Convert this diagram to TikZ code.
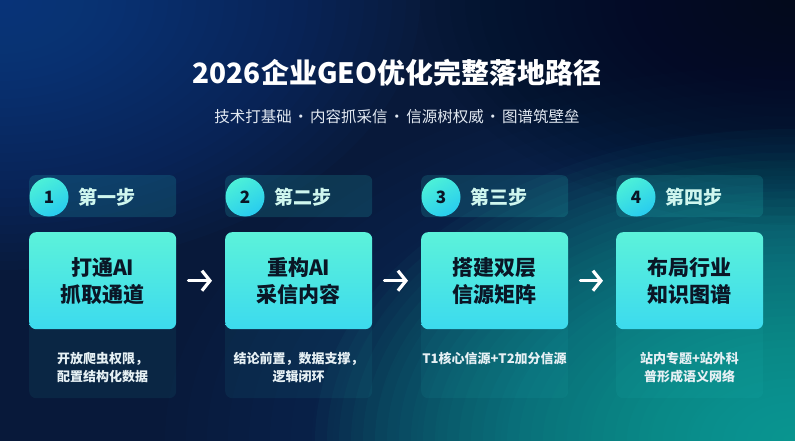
\documentclass[tikz,border=0pt]{standalone}
\usepackage{fontspec}
\setmainfont{Noto Sans CJK SC}
\usetikzlibrary{arrows.meta}
\definecolor{cbg}{HTML}{08193A}
\definecolor{cglowtl}{HTML}{1A4CA2}
\definecolor{cglowbr}{HTML}{20B6A6}
\definecolor{cglowmid}{HTML}{12507E}
\definecolor{cdarktr}{HTML}{030A18}
\definecolor{cbar}{HTML}{2BD4D0}
\definecolor{cboxtop}{HTML}{5CF2DA}
\definecolor{cboxbot}{HTML}{3CDAEE}
\definecolor{ccirctop}{HTML}{4CF0D8}
\definecolor{ccircbot}{HTML}{28CCEF}
\definecolor{cdark}{HTML}{0A1626}
\definecolor{cmint}{HTML}{CFF6EE}
\definecolor{cdesc}{HTML}{E6F0F4}
\definecolor{csub}{HTML}{E2E9F2}
\begin{document}
\begin{tikzpicture}[x=1pt,y=-1pt,
  hdrbar/.style={fill=cbar, fill opacity=0.16, rounded corners=6pt, minimum width=147pt, minimum height=42pt, inner sep=0pt, anchor=north west},
  panel/.style={fill=cbar, fill opacity=0.07, rounded corners=7pt, minimum width=147pt, minimum height=166pt, inner sep=0pt, anchor=north west},
  mainbox/.style={rounded corners=7pt, top color=cboxtop, bottom color=cboxbot, minimum width=147pt, minimum height=97pt, inner sep=0pt, anchor=north west, align=center, font=\fontsize{21}{27}\selectfont\bfseries, text=cdark},
  numcirc/.style={circle, minimum size=39pt, inner sep=0pt, top color=ccirctop, bottom color=ccircbot, shading angle=30, font=\fontsize{17}{17}\selectfont\bfseries, text=cdark},
  steplbl/.style={anchor=west, font=\fontsize{19}{19}\selectfont\bfseries, text=cmint, inner sep=0pt},
  desc/.style={anchor=north, align=center, font=\fontsize{13}{18}\selectfont\bfseries, text=cdesc, inner sep=0pt},
  arr/.style={-{Straight Barb[length=8pt,width=20pt,line width=3.2pt]}, line width=3.2pt, white, line cap=round, shorten <=12pt, shorten >=13pt}]
\useasboundingbox (0,0) rectangle (795,441);
% background
\fill[cbg] (0,0) rectangle (795,441);
\begin{scope}
\clip (0,0) rectangle (795,441);
\foreach \k in {1,...,30} \fill[cglowmid, fill opacity=0.035] (795,441) ellipse ({\k*21pt} and {\k*12.5pt});
\foreach \k in {1,...,40} \fill[cglowbr, fill opacity=0.045] (795,441) ellipse ({\k*12pt} and {\k*7.8pt});
\foreach \k in {1,...,30} \fill[cglowtl, fill opacity=0.04] (0,0) ellipse ({\k*14pt} and {\k*9pt});
\foreach \k in {1,...,25} \fill[cdarktr, fill opacity=0.04] (795,0) ellipse ({\k*15pt} and {\k*9pt});
\end{scope}
% title
\node[font=\fontsize{28}{28}\selectfont\bfseries, text=white] (title) at (397,73) {2026企业GEO优化完整落地路径};
\node[font=\fontsize{15.5}{15.5}\selectfont, text=csub] (subtitle) at (397,117) {技术打基础\kern1.5pt·\kern1.5pt内容抓采信\kern1.5pt·\kern1.5pt信源树权威\kern1.5pt·\kern1.5pt图谱筑壁垒};
% cards
\foreach \i/\x/\num/\step/\main/\desc in {
  1/29/1/第一步/{打通AI\\抓取通道}/{开放爬虫权限，\\配置结构化数据},
  2/225/2/第二步/{重构AI\\采信内容}/{结论前置，数据支撑，\\逻辑闭环},
  3/421/3/第三步/{搭建双层\\信源矩阵}/{T1核心信源+T2加分信源},
  4/616/4/第四步/{布局行业\\知识图谱}/{站内专题+站外科\\普形成语义网络}}{
  \node[panel] (panel\i) at (\x,232) {};
  \node[hdrbar] (hdr\i) at (\x,175) {};
  \node[mainbox] (main\i) at (\x,232) {\main};
  \node[numcirc] (num\i) at ({\x+20},197) {\num};
  \node[steplbl] (step\i) at ({\x+49},197) {\step};
  \node[desc] (desc\i) at ({\x+73.5},352) {\desc};
}
% arrows
\draw[arr] (main1) -- (main2);
\draw[arr] (main2) -- (main3);
\draw[arr] (main3) -- (main4);
\end{tikzpicture}
\end{document}
